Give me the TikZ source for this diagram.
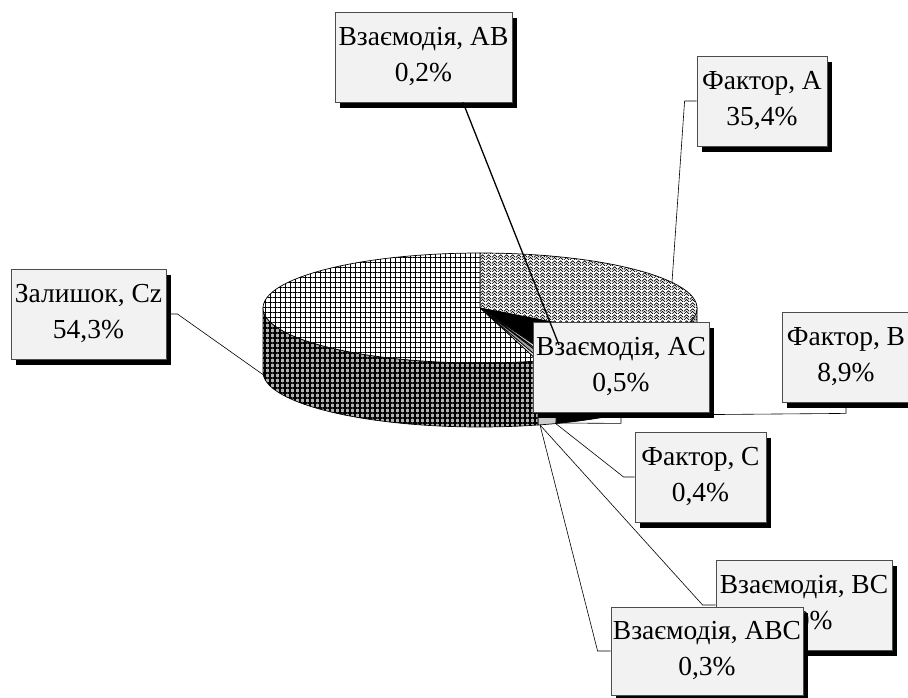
\documentclass[tikz,border=0pt]{standalone}
\usepackage{fontspec}
\setmainfont{Liberation Serif}
\usetikzlibrary{patterns.meta,shadows}
\pgfdeclarelayer{pielayer}
\pgfdeclarelayer{linelayer}
\pgfsetlayers{pielayer,linelayer,main}
\tikzdeclarepattern{
  name=zigzagpat,
  type=uncolored,
  bounding box={(0pt,0pt) and (6pt,6pt)},
  tile size={(6pt,6pt)},
  code={
    \draw[line width=0.8pt] (0pt,0pt) -- (3pt,3pt) -- (6pt,0pt) (0pt,3pt) -- (3pt,6pt) -- (6pt,3pt);
  }
}
\tikzset{
  lbl/.style={draw=black!70, line width=0.8pt, fill=gray!10, align=center,
     font=\fontsize{27.5}{36}\selectfont, inner sep=0pt,
     drop shadow={shadow xshift=5pt, shadow yshift=-6pt, fill=black, opacity=1}},
  leader/.style={draw=black, line width=0.6pt},
  edge/.style={draw=black, line width=0.7pt},
  cztop/.style={preaction={fill=white}, pattern={Hatch[angle=0,distance=5pt,line width=1pt]}, pattern color=black},
  czside/.style={preaction={fill=gray!60}, pattern={Hatch[angle=0,distance=5pt,line width=1.1pt]}, pattern color=black},
  atop/.style={preaction={fill=white}, pattern=zigzagpat, pattern color=black},
  aside/.style={preaction={fill=gray!50}, pattern=zigzagpat, pattern color=black},
  btop/.style={fill=black},
  smallslice/.style={fill=gray!40},
}
\newcommand{\pieside}[3]{\path[#3] plot[domain=#1:#2,samples=60] ({480+217*sin(\x)},{308-55*cos(\x)}) -- plot[domain=#2:#1,samples=60] ({480+217*sin(\x)},{372-55*cos(\x)}) -- cycle;}
\newcommand{\pietop}[3]{\path[#3] (480,308) -- plot[domain=#1:#2,samples=60] ({480+217*sin(\x)},{308-55*cos(\x)}) -- cycle;}
\begin{document}
\begin{tikzpicture}[x=1pt,y=-1pt]
\useasboundingbox (0,0) rectangle (908,698);
% ---- pie ----
\begin{pgfonlayer}{pielayer}
\pieside{90}{127.44}{aside,edge}
\pieside{127.44}{159.48}{btop,edge}
\pieside{159.48}{164.52}{smallslice,edge}
\pieside{164.52}{270}{czside,edge}
\pietop{0}{127.44}{atop,edge}
\pietop{127.44}{159.48}{btop,edge}
\pietop{159.48}{160.92}{smallslice,edge}
\pietop{160.92}{161.64}{fill=white,edge}
\pietop{161.64}{163.44}{fill=gray!70,edge}
\pietop{163.44}{164.52}{fill=gray!20,edge}
\pietop{164.52}{360}{cztop,edge}
\end{pgfonlayer}
% pie anchor points
\coordinate (pCz) at (265,376);
\coordinate (pA) at (672,282);
\coordinate (pB) at (545,416);
\coordinate (pC) at (555,423);
\coordinate (pAC) at (555,423);
\coordinate (pBC) at (540,425);
\coordinate (pABC) at (540,425);
\coordinate (pAB) at (559,345);
% ---- label boxes ----
\node[lbl, minimum width=155pt, minimum height=90pt] (Cz) at (88.5,314) {Залишок, Cz\\54,3\%};
\node[lbl, minimum width=130pt, minimum height=90pt] (A) at (762,101) {Фактор, A\\35,4\%};
\node[lbl, minimum width=128pt, minimum height=90pt] (B) at (846,357) {Фактор, B\\8,9\%};
\node[lbl, minimum width=131pt, minimum height=90pt] (C) at (700.5,477) {Фактор, C\\0,4\%};
\node[lbl, minimum width=176pt, minimum height=90pt] (BC) at (804,605) {Взаємодія, BC\\0,0\%};
\node[lbl, minimum width=192pt, minimum height=88pt] (ABC) at (707,651) {Взаємодія, ABC\\0,3\%};
\node[lbl, minimum width=176pt, minimum height=90pt] (AC) at (621,367) {Взаємодія, AC\\0,5\%};
\node[lbl, minimum width=177pt, minimum height=90pt] (AB) at (423.5,57) {Взаємодія, AB\\0,2\%};
% ---- leaders (behind the boxes) ----
\begin{pgfonlayer}{linelayer}
\draw[leader] (Cz.east) -- ++(11,0) -- (pCz);
\draw[leader] (A.west) -- ++(-12,0) -- (pA);
\draw[leader] (B.south) -- ++(0,11) -- (pB);
\draw[leader] (AC.south) -- ++(0,11) -- (pAC);
\draw[leader] (C.west) -- ++(-11,0) -- (pC);
\draw[leader] (BC.west) -- ++(-13,0) -- (pBC);
\draw[leader] (ABC.west) -- ++(-13,0) -- (pABC);
\end{pgfonlayer}
% AB leader over the AC box
\draw[draw=black, line width=1.3pt] ([xshift=39.5pt]AB.south) -- (pAB);
\end{tikzpicture}
\end{document}
